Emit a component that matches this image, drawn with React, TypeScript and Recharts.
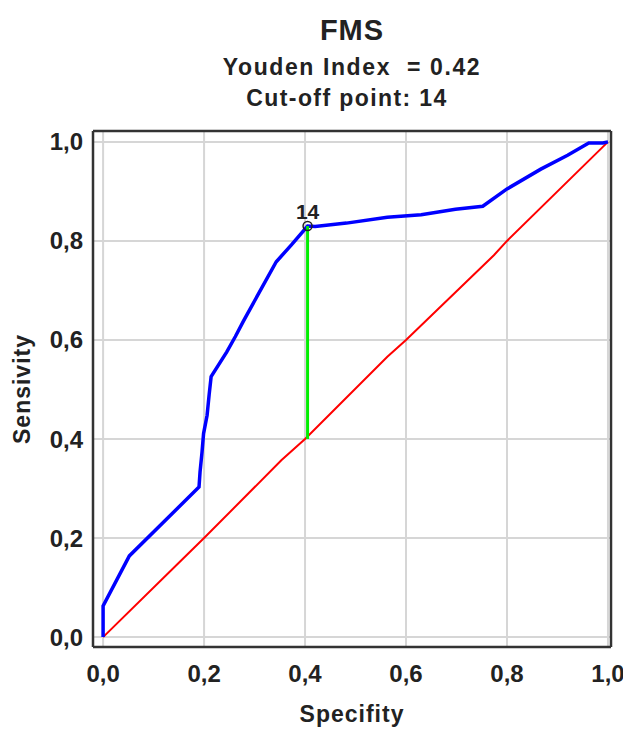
import React from 'react';
import { ComposedChart, Line, XAxis, YAxis, CartesianGrid, ReferenceDot, Customized, Label } from 'recharts';

// ROC curve (blue)
const rocX = [0, 0, 0.052, 0.19, 0.192, 0.196, 0.199, 0.206, 0.21, 0.214, 0.245, 0.262, 0.279, 0.306, 0.343, 0.373, 0.405, 0.42, 0.482, 0.563, 0.63, 0.698, 0.752, 0.8, 0.867, 0.92, 0.962, 0.99, 1];
const rocY = [0, 0.063, 0.164, 0.303, 0.333, 0.374, 0.411, 0.448, 0.489, 0.526, 0.576, 0.607, 0.64, 0.69, 0.758, 0.792, 0.83, 0.829, 0.836, 0.848, 0.853, 0.864, 0.87, 0.905, 0.945, 0.973, 0.998, 0.998, 1];

// reference diagonal (red)
const diagX = [0, 0.147, 0.2, 0.353, 0.4, 0.563, 0.6, 0.774, 0.8, 1];
const diagY = [0, 0.147, 0.2, 0.357, 0.4, 0.566, 0.6, 0.771, 0.8, 1];

// Youden segment (green)
const youdenX = [0.405, 0.405];
const youdenY = [0.4, 0.83];

const majorTicks = [0, 0.2, 0.4, 0.6, 0.8, 1];
const minorTicks = [0, 0.1, 0.2, 0.3, 0.4, 0.5, 0.6, 0.7, 0.8, 0.9, 1];

const cutoffX = 0.405;
const cutoffY = 0.83;
const cutoffLabel = '14';

const titleLines = ['FMS', 'Youden Index\u00a0 = 0.42', 'Cut-off point: 14'];

const xDomain = [-0.02, 1.006];
const yDomain = [-0.02, 1.022];

const toPoints = (xs: number[], ys: number[]) => xs.map((x, i) => ({ x, y: ys[i] }));

const rocData = toPoints(rocX, rocY);
const diagData = toPoints(diagX, diagY);
const youdenData = toPoints(youdenX, youdenY);

const FONT = '"Liberation Sans", Arial, sans-serif';
const TEXT = '#222';
const FRAME = '#333';

const fmt = (v: number) => v.toFixed(1).replace('.', ',');

const Titles = () => (
    <g fontFamily={FONT} fontWeight="bold" fill={TEXT} textAnchor="middle">
        <text x={344} y={32} fontSize={29} letterSpacing={1}>{titleLines[0]}</text>
        <text x={344} y={67} fontSize={23} letterSpacing={1.6}>{titleLines[1]}</text>
        <text x={339} y={98} fontSize={23} letterSpacing={1.4}>{titleLines[2]}</text>
    </g>
);

const frameTick = { stroke: FRAME, strokeWidth: 1.5 };
const frameLine = { stroke: FRAME, strokeWidth: 2.5 };

export default function App() {
    return (
        <ComposedChart width={623} height={722} margin={{ top: 123, right: 20, left: 10, bottom: 0 }}>
            {/* frame + inner minor ticks */}
            <XAxis xAxisId="fb" type="number" orientation="bottom" mirror height={1} domain={xDomain} allowDataOverflow ticks={minorTicks} tick={false} tickSize={5} tickLine={frameTick} axisLine={frameLine} />
            <XAxis xAxisId="ft" type="number" orientation="top" mirror height={1} domain={xDomain} allowDataOverflow ticks={minorTicks} tick={false} tickSize={5} tickLine={frameTick} axisLine={frameLine} />
            <YAxis yAxisId="fl" type="number" orientation="left" mirror width={1} domain={yDomain} allowDataOverflow ticks={minorTicks} tick={false} tickSize={5} tickLine={frameTick} axisLine={frameLine} />
            <YAxis yAxisId="fr" type="number" orientation="right" mirror width={1} domain={yDomain} allowDataOverflow ticks={minorTicks} tick={false} tickSize={5} tickLine={frameTick} axisLine={frameLine} />

            <CartesianGrid stroke="#d6d6d6" strokeWidth={2} />
            <XAxis
                dataKey="x"
                type="number"
                domain={xDomain}
                allowDataOverflow
                ticks={majorTicks}
                tickFormatter={fmt}
                height={83}
                tickSize={8}
                tickMargin={10}
                tickLine={false}
                axisLine={false}
                tick={{ fill: TEXT, fontSize: 24, fontWeight: 'bold', fontFamily: FONT }}
            >
                <Label value="Specifity" position="insideBottom" offset={8} fill={TEXT} fontSize={23} fontWeight="bold" fontFamily={FONT} letterSpacing={1} />
            </XAxis>
            <YAxis
                dataKey="y"
                type="number"
                domain={yDomain}
                allowDataOverflow
                ticks={majorTicks}
                tickFormatter={fmt}
                width={75}
                tickSize={4}
                tickMargin={6}
                tickLine={false}
                axisLine={false}
                tick={{ fill: TEXT, fontSize: 24, fontWeight: 'bold', fontFamily: FONT }}
            >
                <Label value="Sensivity" angle={-90} position="insideLeft" offset={4} fill={TEXT} fontSize={23} fontWeight="bold" fontFamily={FONT} letterSpacing={1} style={{ textAnchor: 'middle' }} />
            </YAxis>

            <Line data={diagData} dataKey="y" type="linear" stroke="#ff0000" strokeWidth={2} dot={false} isAnimationActive={false} />
            <Line data={rocData} dataKey="y" type="linear" stroke="#0000ff" strokeWidth={3.5} dot={false} isAnimationActive={false} />
            <Line data={youdenData} dataKey="y" type="linear" stroke="#00ee00" strokeWidth={3} dot={false} isAnimationActive={false} />
            <ReferenceDot x={cutoffX} y={cutoffY} r={4.5} fill="none" stroke={TEXT} strokeWidth={1.5}>
                <Label value={cutoffLabel} position="top" offset={3} fill={TEXT} fontSize={21} fontWeight="bold" fontFamily={FONT} />
            </ReferenceDot>

            <Customized component={Titles} />
        </ComposedChart>
    );
}
